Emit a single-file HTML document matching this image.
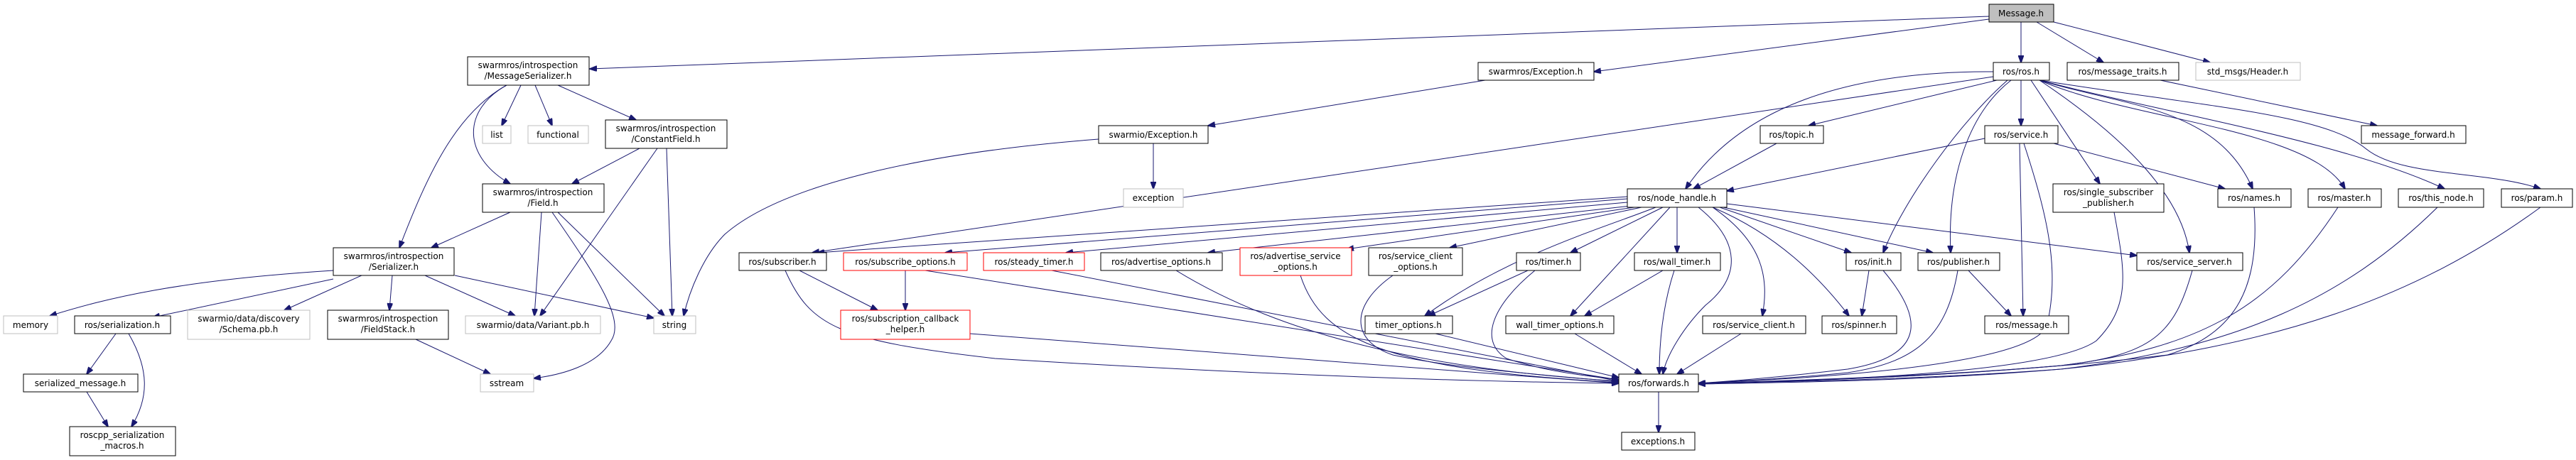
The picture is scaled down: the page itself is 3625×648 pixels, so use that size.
<!DOCTYPE html>
<html><head><meta charset="utf-8"><style>
html,body{margin:0;padding:0;background:#fff;}
svg{display:block}
text{font-family:"DejaVu Sans","Liberation Sans",sans-serif;font-size:12px;fill:#000;text-anchor:middle}
.b{fill:#fff;stroke:#000;stroke-width:1}
.g{fill:#fff;stroke:#bfbfbf;stroke-width:1}
.r{fill:#fff;stroke:#ff0000;stroke-width:1}
.e{fill:none;stroke:#191970;stroke-width:1}
</style></head><body>
<svg width="3625" height="648" viewBox="0 0 3625 648" xmlns="http://www.w3.org/2000/svg">
<defs><marker id="a" markerUnits="userSpaceOnUse" markerWidth="11" markerHeight="8" refX="10" refY="4" orient="auto"><path d="M0,0 L11,4 L0,8 Z" fill="#191970" stroke="#191970"/></marker></defs>
<g class="e" marker-end="url(#a)">
<path d="M2799,23 L830,97"/>
<path d="M2799,27 L2243,101"/>
<path d="M2844,31 L2844,88"/>
<path d="M2866,31 L2960,88"/>
<path d="M2890,31 L3110,88"/>
<path d="M733,120 L706,177"/>
<path d="M753,120 L777,177"/>
<path d="M785,120 L895,169"/>
<path d="M713,120 C650,155 650,220 718,259"/>
<path d="M713,120 C640,160 600,250 562,349"/>
<path d="M900,209 L805,259"/>
<path d="M925,209 L760,445"/>
<path d="M938,209 L946,445"/>
<path d="M718,299 L607,349"/>
<path d="M762,299 L752,445"/>
<path d="M785,299 L935,445"/>
<path d="M777,299 C840,390 880,450 860,480 C840,515 790,528 751,533"/>
<path d="M469,381 C250,395 150,420 70,445"/>
<path d="M469,393 L215,447"/>
<path d="M509,388 L400,437"/>
<path d="M552,388 L548,437"/>
<path d="M598,388 L725,445"/>
<path d="M640,388 L920,448"/>
<path d="M163,470 L122,527"/>
<path d="M181,470 C210,520 210,560 185,601"/>
<path d="M122,552 L152,601"/>
<path d="M585,478 L690,527"/>
<path d="M2090,113 L1700,177"/>
<path d="M1623,202 L1623,266"/>
<path d="M1546,196 C1300,215 1100,260 1020,330 C990,360 970,410 962,445"/>
<path d="M2805,101 C2600,100 2450,150 2372,266"/>
<path d="M2805,108 L1143,356"/>
<path d="M2810,113 L2545,177"/>
<path d="M2844,113 L2844,177"/>
<path d="M2825,113 C2760,170 2680,280 2650,356"/>
<path d="M2830,113 C2770,160 2740,250 2745,356"/>
<path d="M2858,113 L2955,259"/>
<path d="M2870,113 C2990,150 3120,150 3170,266"/>
<path d="M2870,113 C3000,200 3070,280 3081,356"/>
<path d="M2870,113 C3000,170 3250,180 3300,266"/>
<path d="M2870,113 C3050,160 3300,200 3440,266"/>
<path d="M2870,113 C3100,150 3270,160 3330,210 C3380,250 3500,240 3575,266"/>
<path d="M3040,113 L3345,177"/>
<path d="M2793,195 L2430,269"/>
<path d="M2890,202 L3131,266"/>
<path d="M2842,202 L2847,445"/>
<path d="M2848,202 C2880,300 2900,380 2880,460 C2850,520 2500,535 2390,540"/>
<path d="M2975,299 C2990,380 3000,430 2950,480 C2880,530 2500,538 2390,540"/>
<path d="M2500,202 L2383,266"/>
<path d="M2290,277 L1150,356"/>
<path d="M2290,280 L1330,356"/>
<path d="M2290,285 L1500,356"/>
<path d="M2295,290 L1700,356"/>
<path d="M2300,292 L1895,351"/>
<path d="M2310,292 L2040,349"/>
<path d="M2340,292 L2210,356"/>
<path d="M2330,292 C2260,320 2120,360 2005,445"/>
<path d="M2360,292 L2360,356"/>
<path d="M2350,292 L2210,445"/>
<path d="M2390,292 C2450,340 2450,390 2400,430 C2370,460 2345,500 2340,527"/>
<path d="M2410,292 C2480,340 2490,390 2480,445"/>
<path d="M2420,292 L2605,356"/>
<path d="M2410,292 C2500,330 2560,390 2602,445"/>
<path d="M2425,292 L2720,356"/>
<path d="M2430,287 L3007,360"/>
<path d="M1125,381 L1235,437"/>
<path d="M1105,381 C1140,460 1180,480 1400,505 C1800,530 2100,538 2278,540"/>
<path d="M1274,381 L1274,437"/>
<path d="M1302,381 L2278,535"/>
<path d="M1365,470 L2278,540"/>
<path d="M1480,381 L2278,537"/>
<path d="M1655,381 C1800,470 2000,520 2278,537"/>
<path d="M1830,388 C1860,480 1950,520 2278,539"/>
<path d="M1960,388 C1900,430 1900,480 1960,500 C2050,520 2200,530 2278,538"/>
<path d="M2150,381 L2010,445"/>
<path d="M2160,381 C2100,430 2080,480 2120,505 C2180,525 2240,530 2278,535"/>
<path d="M2020,470 L2278,532"/>
<path d="M2340,381 L2230,445"/>
<path d="M2356,381 C2340,430 2335,480 2335,527"/>
<path d="M2216,470 L2310,527"/>
<path d="M2450,470 L2360,527"/>
<path d="M2630,381 L2620,445"/>
<path d="M2650,381 C2700,440 2720,500 2600,520 C2500,532 2420,538 2390,540"/>
<path d="M2770,381 L2830,445"/>
<path d="M2755,381 C2740,470 2700,510 2600,525 C2500,535 2420,538 2390,540"/>
<path d="M3085,381 C3060,470 3030,500 2900,515 C2700,532 2450,538 2390,540"/>
<path d="M3172,292 C3180,400 3150,470 3050,500 C2800,530 2500,538 2390,540"/>
<path d="M3290,292 C3200,430 3100,490 2900,515 C2700,532 2500,538 2390,540"/>
<path d="M3430,292 C3300,420 3150,490 2900,520 C2700,535 2500,538 2390,540"/>
<path d="M3575,292 C3400,420 3200,490 2900,520 C2700,537 2500,539 2390,541"/>
<path d="M2334,552 L2334,609"/>
</g>
<g>
<rect class="b" x="658" y="80" width="171" height="40"/><text x="743" y="96">swarmros/introspection</text><text x="743" y="111">/MessageSerializer.h</text>
<rect class="b" x="2080" y="88" width="163" height="25"/><text x="2161" y="105">swarmros/Exception.h</text>
<rect x="2799" y="6" width="91" height="25" fill="#bfbfbf" stroke="#000"/><text x="2844" y="23">Message.h</text>
<rect class="b" x="2805" y="88" width="79" height="25"/><text x="2844" y="105">ros/ros.h</text>
<rect class="b" x="2909" y="88" width="157" height="25"/><text x="2987" y="105">ros/message_traits.h</text>
<rect class="g" x="3090" y="88" width="147" height="25"/><text x="3163" y="105">std_msgs/Header.h</text>
<rect class="g" x="679" y="177" width="40" height="25"/><text x="699" y="194">list</text>
<rect class="g" x="743" y="177" width="85" height="25"/><text x="785" y="194">functional</text>
<rect class="b" x="852" y="169" width="171" height="40"/><text x="937" y="185">swarmros/introspection</text><text x="937" y="200">/ConstantField.h</text>
<rect class="b" x="679" y="259" width="171" height="40"/><text x="764" y="275">swarmros/introspection</text><text x="764" y="290">/Field.h</text>
<rect class="b" x="469" y="349" width="170" height="39"/><text x="554" y="365">swarmros/introspection</text><text x="554" y="380">/Serializer.h</text>
<rect class="b" x="461" y="437" width="170" height="41"/><text x="546" y="453">swarmros/introspection</text><text x="546" y="468">/FieldStack.h</text>
<rect class="g" x="5" y="445" width="76" height="25"/><text x="43" y="462">memory</text>
<rect class="b" x="105" y="445" width="135" height="25"/><text x="172" y="462">ros/serialization.h</text>
<rect class="g" x="264" y="437" width="172" height="41"/><text x="350" y="453">swarmio/data/discovery</text><text x="350" y="468">/Schema.pb.h</text>
<rect class="g" x="655" y="445" width="190" height="25"/><text x="750" y="462">swarmio/data/Variant.pb.h</text>
<rect class="g" x="920" y="445" width="59" height="25"/><text x="949" y="462">string</text>
<rect class="g" x="676" y="527" width="75" height="25"/><text x="713" y="544">sstream</text>
<rect class="b" x="33" y="527" width="161" height="25"/><text x="113" y="544">serialized_message.h</text>
<rect class="b" x="98" y="601" width="149" height="41"/><text x="172" y="617">roscpp_serialization</text><text x="172" y="632">_macros.h</text>
<rect class="b" x="1546" y="177" width="154" height="25"/><text x="1623" y="194">swarmio/Exception.h</text>
<rect class="g" x="1581" y="266" width="84" height="26"/><text x="1623" y="283">exception</text>
<rect class="b" x="2477" y="177" width="89" height="25"/><text x="2521" y="194">ros/topic.h</text>
<rect class="b" x="2793" y="177" width="103" height="25"/><text x="2844" y="194">ros/service.h</text>
<rect class="b" x="2889" y="259" width="156" height="40"/><text x="2967" y="275">ros/single_subscriber</text><text x="2967" y="290">_publisher.h</text>
<rect class="b" x="3121" y="266" width="103" height="26"/><text x="3172" y="283">ros/names.h</text>
<rect class="b" x="3248" y="266" width="103" height="26"/><text x="3299" y="283">ros/master.h</text>
<rect class="b" x="3375" y="266" width="120" height="26"/><text x="3435" y="283">ros/this_node.h</text>
<rect class="b" x="3520" y="266" width="100" height="26"/><text x="3570" y="283">ros/param.h</text>
<rect class="b" x="3323" y="177" width="147" height="25"/><text x="3396" y="194">message_forward.h</text>
<rect class="b" x="2290" y="266" width="140" height="26"/><text x="2360" y="283">ros/node_handle.h</text>
<rect class="b" x="1040" y="356" width="123" height="25"/><text x="1101" y="373">ros/subscriber.h</text>
<rect class="r" x="1187" y="356" width="174" height="25"/><text x="1274" y="373">ros/subscribe_options.h</text>
<rect class="r" x="1384" y="356" width="142" height="25"/><text x="1455" y="373">ros/steady_timer.h</text>
<rect class="b" x="1549" y="356" width="171" height="25"/><text x="1634" y="373">ros/advertise_options.h</text>
<rect class="r" x="1745" y="349" width="157" height="39"/><text x="1823" y="365">ros/advertise_service</text><text x="1823" y="380">_options.h</text>
<rect class="b" x="1926" y="349" width="132" height="39"/><text x="1992" y="365">ros/service_client</text><text x="1992" y="380">_options.h</text>
<rect class="b" x="2134" y="356" width="90" height="25"/><text x="2179" y="373">ros/timer.h</text>
<rect class="b" x="2300" y="356" width="121" height="25"/><text x="2360" y="373">ros/wall_timer.h</text>
<rect class="b" x="2598" y="356" width="77" height="25"/><text x="2636" y="373">ros/init.h</text>
<rect class="b" x="2699" y="356" width="115" height="25"/><text x="2756" y="373">ros/publisher.h</text>
<rect class="b" x="3007" y="356" width="149" height="25"/><text x="3081" y="373">ros/service_server.h</text>
<rect class="b" x="1921" y="445" width="123" height="25"/><text x="1982" y="462">timer_options.h</text>
<rect class="b" x="2119" y="445" width="152" height="25"/><text x="2195" y="462">wall_timer_options.h</text>
<rect class="b" x="2396" y="445" width="145" height="25"/><text x="2468" y="462">ros/service_client.h</text>
<rect class="b" x="2564" y="445" width="105" height="25"/><text x="2616" y="462">ros/spinner.h</text>
<rect class="b" x="2793" y="445" width="118" height="25"/><text x="2852" y="462">ros/message.h</text>
<rect class="r" x="1183" y="437" width="182" height="41"/><text x="1274" y="453">ros/subscription_callback</text><text x="1274" y="468">_helper.h</text>
<rect class="b" x="2278" y="527" width="112" height="25"/><text x="2334" y="544">ros/forwards.h</text>
<rect class="b" x="2282" y="609" width="103" height="25"/><text x="2333" y="626">exceptions.h</text>
</g>
</svg>
</body></html>
